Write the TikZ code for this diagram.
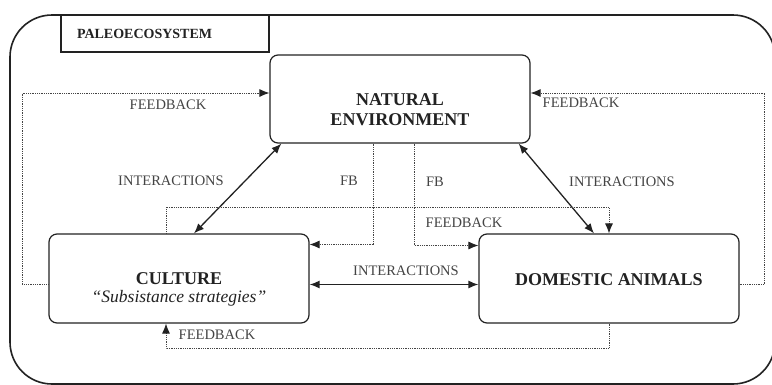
\documentclass[tikz,border=0pt]{standalone}
\usepackage{fontspec}
\setmainfont{Liberation Serif}
\usetikzlibrary{arrows.meta}
\definecolor{ink}{HTML}{222222}
\definecolor{lbl}{HTML}{444444}
\tikzset{
  box/.style={draw=ink,line width=1.2pt,rounded corners=8pt,minimum width=260pt,minimum height=88pt},
  boxtext/.style={align=center,font=\bfseries\fontsize{18}{20}\selectfont,text=ink},
  lab/.style={font=\fontsize{14.5}{16}\selectfont,text=lbl},
  fbline/.style={draw=lbl,line width=.9pt,dash pattern=on .9pt off .9pt},
  inter/.style={draw=ink,line width=1.3pt}
}
\begin{document}
\begin{tikzpicture}[x=1pt,y=-1pt,>={Latex[length=10pt,width=8pt,color=ink,fill=ink]}]
\useasboundingbox (0,0) rectangle (772,384);
\fill[white] (0,0) rectangle (772,384);
\draw[ink,line width=1.6pt,rounded corners=42pt] (10,15) rectangle (775,384);
\node[draw=ink,line width=1.9pt,minimum width=208pt,minimum height=37pt,text width=176pt,inner xsep=16pt,align=left,font=\bfseries\fontsize{14}{16}\selectfont,text=ink] (paleo) at (165,33.5) {PALEOECOSYSTEM};
% the three parts
\node[box] (nat) at (400,99) {};
\node[boxtext] (nattxt) at ([yshift=-11pt]nat.center) {NATURAL\\ENVIRONMENT};
\node[box,minimum height=89pt] (cult) at (179,278.5) {};
\node[boxtext] (culttxt) at ([yshift=-11pt]cult.center) {CULTURE\\[-2pt]{\normalfont\itshape\fontsize{17.5}{19}\selectfont ``Subsistance strategies''}};
\node[box,minimum height=89pt] (dom) at (609,278.5) {};
\node[boxtext] (domtxt) at ([yshift=-1pt]dom.center) {DOMESTIC ANIMALS};
% interactions
\draw[inter,<->] ([xshift=12pt]nat.south west)--([xshift=15pt]cult.north);
\draw[inter,<->] ([xshift=-12pt]nat.south east)--([xshift=-15pt]dom.north);
\draw[inter,<->] ([yshift=-6pt]cult.east)--([yshift=-6pt]dom.west);
% feedbacks
\draw[fbline,->] ([yshift=-6pt]cult.west)--++(-26,0)|-([yshift=6pt]nat.west);
\draw[fbline,->] ([yshift=-6pt]dom.east)--++(25,0)|-([yshift=6pt]nat.east);
\draw[fbline,->] ([xshift=-27pt]nat.south)|-([yshift=34pt]cult.east);
\draw[fbline,->] ([xshift=14pt]nat.south)|-([yshift=33pt]dom.west);
\draw[fbline,->] ([xshift=-13pt]cult.north)--++(0,-26)-|(dom.north);
\draw[fbline,->] (dom.south)--++(0,25)-|([xshift=-13pt]cult.south);
% labels
\node[lab] (fbl) at (168,105) {FEEDBACK};
\node[lab] (fbr) at (581,103) {FEEDBACK};
\node[lab] (fbm) at (464,223) {FEEDBACK};
\node[lab] (fbb) at (217,335) {FEEDBACK};
\node[lab] (inl) at (171,181) {INTERACTIONS};
\node[lab] (inr) at (622,182) {INTERACTIONS};
\node[lab] (inb) at (406,271) {INTERACTIONS};
\node[lab] (fbsl) at (349,181) {FB};
\node[lab] (fbsr) at (435,182) {FB};
\end{tikzpicture}
\end{document}
